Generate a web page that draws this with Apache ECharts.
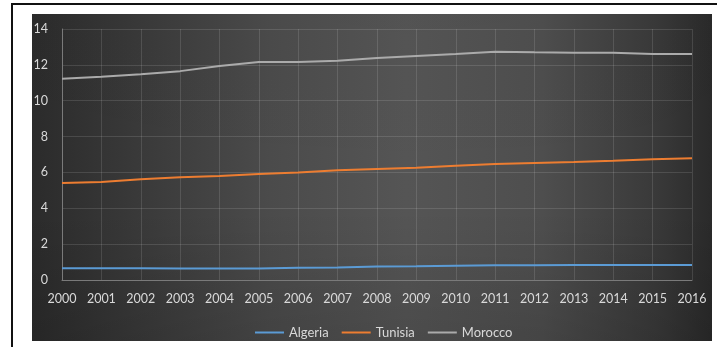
<!DOCTYPE html>
<html>
<head>
<meta charset="utf-8">
<script src="https://cdn.jsdelivr.net/npm/echarts@6/dist/echarts.min.js"></script>
<style>
  html, body { margin: 0; padding: 0; background: #ffffff; }
  #chart { width: 717px; height: 347px; }
</style>
</head>
<body>
<div id="chart"></div>
<script>
// Years on the category axis
const years = ['2000','2001','2002','2003','2004','2005','2006','2007','2008','2009','2010','2011','2012','2013','2014','2015','2016'];

// Series values per year
const algeria = [0.65,0.65,0.65,0.64,0.64,0.64,0.68,0.70,0.75,0.76,0.80,0.82,0.82,0.83,0.83,0.84,0.84];
const tunisia = [5.41,5.47,5.62,5.73,5.80,5.91,6.00,6.12,6.19,6.26,6.37,6.47,6.53,6.58,6.65,6.73,6.79];
const morocco = [11.23,11.34,11.47,11.65,11.93,12.16,12.16,12.23,12.38,12.49,12.60,12.73,12.70,12.68,12.68,12.60,12.60];

// Value axis ticks
const yMin = 0, yMax = 14, yStep = 2;

const labelColor = '#d9d9d9';
const fontFamily = 'Lato, "Open Sans", sans-serif';

const chart = echarts.init(document.getElementById('chart'), null, { renderer: 'canvas' });

chart.setOption({
  animation: false,
  backgroundColor: '#ffffff',
  graphic: [
    // frame lines
    { type: 'rect', z: -10, shape: { x: 11, y: 3, width: 706, height: 2 }, style: { fill: '#111111' }, silent: true },
    { type: 'rect', z: -10, shape: { x: 11, y: 3, width: 2, height: 344 }, style: { fill: '#111111' }, silent: true },
    // dark chart panel
    {
      type: 'rect', z: -9, silent: true,
      shape: { x: 32, y: 14, width: 680, height: 327 },
      style: {
        fill: new echarts.graphic.LinearGradient(0, 0, 1, 0, [
          { offset: 0, color: '#2b2b2b' },
          { offset: 0.12, color: '#363636' },
          { offset: 0.35, color: '#4b4b4b' },
          { offset: 0.55, color: '#555555' },
          { offset: 0.75, color: '#4e4e4e' },
          { offset: 0.92, color: '#393939' },
          { offset: 1, color: '#2a2a2a' }
        ])
      }
    },
    {
      type: 'rect', z: -8, silent: true,
      shape: { x: 32, y: 14, width: 680, height: 327 },
      style: {
        fill: new echarts.graphic.LinearGradient(0, 0, 0, 1, [
          { offset: 0, color: 'rgba(0,0,0,0.02)' },
          { offset: 0.6, color: 'rgba(0,0,0,0)' },
          { offset: 1, color: 'rgba(0,0,0,0.12)' }
        ])
      }
    }
  ],
  grid: { left: 62, right: 25, top: 29, bottom: 67, containLabel: false },
  legend: {
    data: ['Algeria', 'Tunisia', 'Morocco'],
    top: 321,
    left: 250,
    icon: 'rect',
    itemWidth: 29,
    itemHeight: 2,
    itemGap: 13,
    textStyle: { color: labelColor, fontSize: 13, fontFamily: fontFamily }
  },
  xAxis: {
    type: 'category',
    data: years,
    boundaryGap: false,
    axisLine: { show: true, lineStyle: { color: '#7a7a7a', width: 1 } },
    axisTick: { show: false },
    axisLabel: { color: labelColor, fontSize: 12.5, fontFamily: fontFamily, margin: 12 },
    splitLine: { show: true, lineStyle: { color: 'rgba(255,255,255,0.12)', width: 1 } }
  },
  yAxis: {
    type: 'value',
    min: yMin, max: yMax, interval: yStep,
    axisLine: { show: true, lineStyle: { color: '#7a7a7a', width: 1 } },
    axisTick: { show: false },
    axisLabel: { color: labelColor, fontSize: 12.5, fontFamily: fontFamily, margin: 14 },
    splitLine: { show: true, lineStyle: { color: 'rgba(255,255,255,0.12)', width: 1 } }
  },
  series: [
    { name: 'Algeria', type: 'line', data: algeria, symbol: 'none', lineStyle: { color: '#5b9bd5', width: 2 }, itemStyle: { color: '#5b9bd5' } },
    { name: 'Tunisia', type: 'line', data: tunisia, symbol: 'none', lineStyle: { color: '#ed7d31', width: 2 }, itemStyle: { color: '#ed7d31' } },
    { name: 'Morocco', type: 'line', data: morocco, symbol: 'none', lineStyle: { color: '#ababab', width: 2 }, itemStyle: { color: '#ababab' } }
  ]
});
</script>
</body>
</html>
